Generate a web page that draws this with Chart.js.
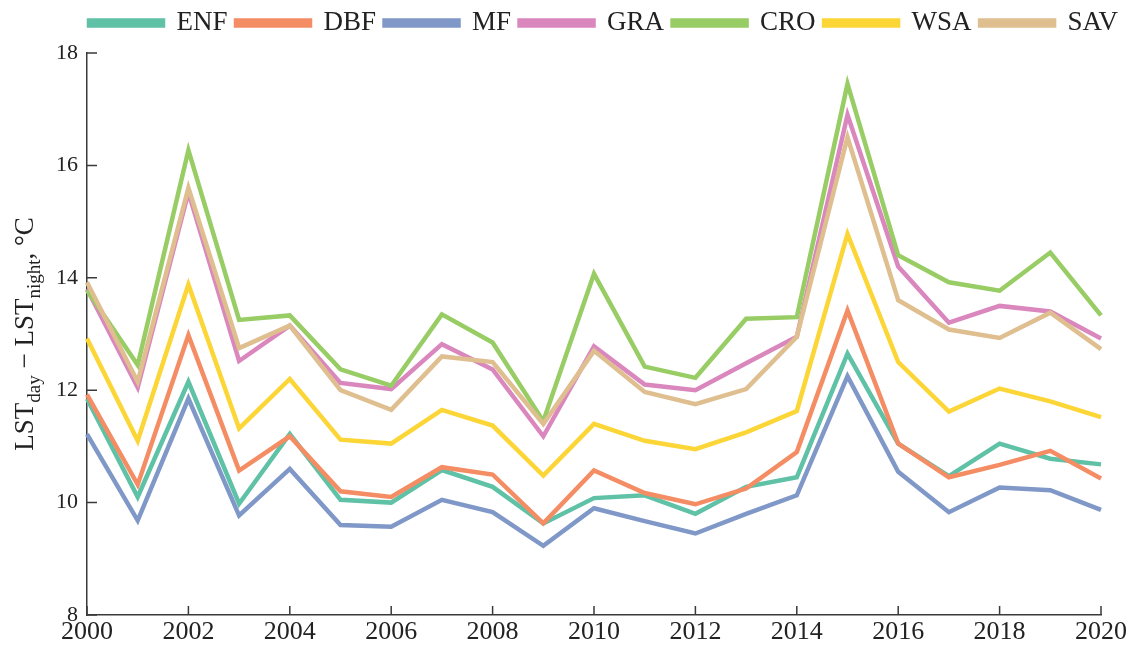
<!DOCTYPE html>
<html lang="en">
<head>
<meta charset="UTF-8">
<title>LST day - night</title>
<script src="https://cdn.jsdelivr.net/npm/chart.js@4.4.0/dist/chart.umd.min.js"></script>
<style>
  html, body { margin: 0; padding: 0; background: #fff; }
  #wrap { width: 1134px; height: 650px; position: relative; }
</style>
</head>
<body>
<div id="wrap"><canvas id="lstChart"></canvas></div>
<script>
// data
const years = [2000, 2001, 2002, 2003, 2004, 2005, 2006, 2007, 2008, 2009, 2010,
               2011, 2012, 2013, 2014, 2015, 2016, 2017, 2018, 2019, 2020];

const enf = [11.85, 10.10, 12.15, 9.98, 11.22, 10.05, 10.00, 10.58, 10.28, 9.63, 10.08,
             10.13, 9.80, 10.28, 10.45, 12.65, 11.05, 10.47, 11.05, 10.78, 10.68];
const dbf = [11.92, 10.32, 12.98, 10.57, 11.18, 10.20, 10.10, 10.63, 10.50, 9.63, 10.57,
             10.17, 9.97, 10.25, 10.90, 13.42, 11.05, 10.45, 10.67, 10.92, 10.43];
const mf  = [11.22, 9.68, 11.85, 9.77, 10.60, 9.60, 9.57, 10.05, 9.83, 9.23, 9.90,
             9.67, 9.45, 9.80, 10.13, 12.25, 10.55, 9.83, 10.27, 10.22, 9.87];
const gra = [13.80, 12.05, 15.52, 12.52, 13.15, 12.13, 12.02, 12.82, 12.37, 11.18, 12.78,
             12.10, 12.00, 12.48, 12.95, 16.90, 14.20, 13.20, 13.50, 13.40, 12.92];
const cro = [13.78, 12.45, 16.27, 13.25, 13.33, 12.37, 12.08, 13.35, 12.85, 11.45, 14.07,
             12.42, 12.22, 13.27, 13.30, 17.45, 14.40, 13.92, 13.77, 14.45, 13.33];
const wsa = [12.92, 11.10, 13.88, 11.32, 12.20, 11.12, 11.05, 11.65, 11.37, 10.48, 11.40,
             11.10, 10.95, 11.25, 11.63, 14.78, 12.50, 11.62, 12.03, 11.80, 11.52];
const sav = [13.92, 12.15, 15.60, 12.75, 13.15, 12.00, 11.65, 12.60, 12.50, 11.40, 12.70,
             11.97, 11.75, 12.02, 12.95, 16.50, 13.60, 13.08, 12.93, 13.38, 12.73];

const seriesNames  = ['ENF', 'DBF', 'MF', 'GRA', 'CRO', 'WSA', 'SAV'];
const seriesValues = [enf, dbf, mf, gra, cro, wsa, sav];
const seriesColors = ['#5fc1a5', '#f48c64', '#8098c8', '#da87be', '#98cc64', '#fcd537', '#dfbe8f'];

const yMin = 8, yMax = 18, yStep = 2;

const FONT = "'Liberation Serif', 'Times New Roman', serif";
const AXIS = '#3a3a3a';

// tick marks point into the plot, so draw them here
const innerTicks = {
  id: 'innerTicks',
  afterDatasetsDraw(chart) {
    const {ctx, chartArea, scales: {x, y}} = chart;
    ctx.save();
    ctx.strokeStyle = AXIS;
    ctx.lineWidth = 1.5;
    ctx.beginPath();
    years.forEach((yr, i) => {
      if (yr % 2 !== 0) return;
      const px = x.getPixelForTick(i);
      ctx.moveTo(px, chartArea.bottom);
      ctx.lineTo(px, chartArea.bottom - 9);
    });
    y.ticks.forEach(t => {
      const py = y.getPixelForValue(t.value);
      ctx.moveTo(chartArea.left, py);
      ctx.lineTo(chartArea.left + 10, py);
    });
    ctx.stroke();
    ctx.restore();
  }
};

// y title with subscripts
const yTitle = {
  id: 'yTitle',
  afterDraw(chart) {
    const {ctx, chartArea} = chart;
    const big = 27, small = 19;
    const parts = [
      {t: 'LST'}, {t: 'day', sub: true}, {t: ' \u2212 '},
      {t: 'LST'}, {t: 'night', sub: true}, {t: ', \u00b0C'}
    ];
    ctx.save();
    let total = 0;
    parts.forEach(p => {
      ctx.font = (p.sub ? small : big) + 'px ' + FONT;
      p.w = ctx.measureText(p.t).width;
      total += p.w;
    });
    ctx.translate(33, (chartArea.top + chartArea.bottom) / 2);
    ctx.rotate(-Math.PI / 2);
    ctx.fillStyle = '#222';
    ctx.textBaseline = 'alphabetic';
    let cx = -total / 2;
    parts.forEach(p => {
      ctx.font = (p.sub ? small : big) + 'px ' + FONT;
      ctx.fillText(p.t, cx, p.sub ? 7 : 0);
      cx += p.w;
    });
    ctx.restore();
  }
};

// move the legend row to where it sits in the figure
const legendShift = {
  id: 'legendShift',
  afterLayout(chart) {
    const lg = chart.legend;
    if (!lg || !lg.lineWidths) return;
    const pad = lg.options.labels.padding;
    const startX = (lg.left + pad + lg.right - lg.lineWidths[0]) / 2;
    const dx = 89 - startX;
    const dy = 23 - (lg.top + pad + 13.5);
    lg.left += dx; lg.right += dx;
    lg.top += dy; lg.bottom += dy;
  }
};

const datasets = seriesNames.map((name, i) => ({
  label: name,
  data: seriesValues[i],
  borderColor: seriesColors[i],
  backgroundColor: seriesColors[i],
  borderWidth: 4.5,
  pointRadius: 0,
  tension: 0,
  fill: false,
  order: seriesNames.length - i
}));

new Chart(document.getElementById('lstChart'), {
  type: 'line',
  data: { labels: years, datasets: datasets },
  options: {
    responsive: true,
    maintainAspectRatio: false,
    animation: false,
    layout: { padding: 0 },
    plugins: {
      legend: {
        position: 'top',
        labels: {
          boxWidth: 74,
          boxHeight: 5,
          padding: 8.5,
          color: '#222',
          font: { family: FONT, size: 27 },
          sort: (a, b) => a.datasetIndex - b.datasetIndex
        }
      },
      tooltip: { enabled: false }
    },
    scales: {
      x: {
        type: 'category',
        grid: { drawOnChartArea: false, drawTicks: false },
        border: { display: true, color: AXIS, width: 1.5 },
        ticks: {
          autoSkip: false,
          maxRotation: 0,
          padding: 2,
          color: '#222',
          font: { family: FONT, size: 26 },
          callback: (v, i) => (years[i] % 2 === 0 ? String(years[i]) : '')
        },
        afterFit: s => { s.height = 35; s.paddingRight = 33; }
      },
      y: {
        min: yMin,
        max: yMax,
        grid: { drawOnChartArea: false, drawTicks: false },
        border: { display: true, color: AXIS, width: 1.5 },
        ticks: {
          stepSize: yStep,
          padding: 9,
          color: '#222',
          font: { family: FONT, size: 22 }
        },
        afterFit: s => { s.width = 87; s.paddingTop = 53; }
      }
    }
  },
  plugins: [innerTicks, yTitle, legendShift]
});
</script>
</body>
</html>
